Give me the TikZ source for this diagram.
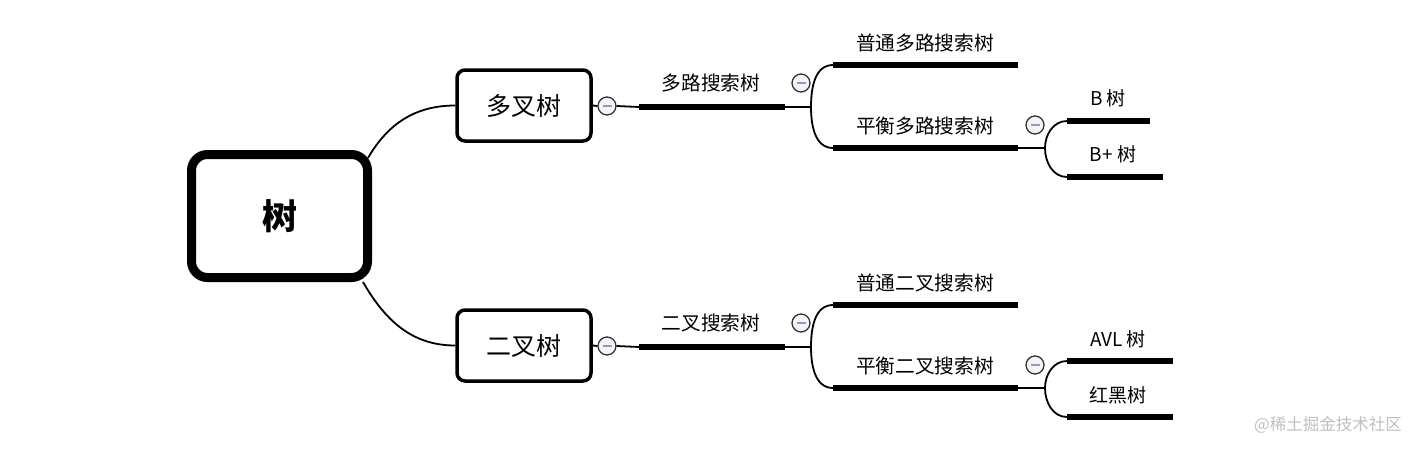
\documentclass[tikz,border=0pt]{standalone}
\usepackage{fontspec}
\setmainfont{Noto Sans CJK SC}
\usetikzlibrary{positioning}
\definecolor{minuscol}{HTML}{8C9AC8}
\definecolor{foldfill}{HTML}{F4F4F8}

\begin{document}
\begin{tikzpicture}[x=1pt,y=-1pt,
  root/.style={draw,line width=9pt,rounded corners=16pt,minimum width=176pt,minimum height=123pt,font=\fontsize{35}{40}\selectfont\bfseries},
  sub/.style={draw,line width=3.5pt,rounded corners=8pt,minimum width=134pt,minimum height=71pt,font=\fontsize{25}{29}\selectfont},
  topic/.style={font=\fontsize{19.7}{23}\selectfont,inner sep=0pt},
  leaf/.style={font=\fontsize{19}{22}\selectfont,inner sep=0pt},
  bar/.style={line width=5.5pt},
  link/.style={line width=1.8pt},
  fold/.style={circle,draw=black!80,fill=foldfill,line width=1.3pt,minimum size=18pt,inner sep=0pt,
    path picture={\draw[minuscol,line width=2pt] ([xshift=-4.5pt]path picture bounding box.center) -- ([xshift=4.5pt]path picture bounding box.center);}}]
\useasboundingbox (0,0) rectangle (1426,450);

\node[root] (root) at (279.5,216) {树};

% upper half
\node[sub] (multi) at (524,105.5) {多叉树};
\node[fold] (f1) at (607,106) {};
\coordinate (m1) at (639,107);
\coordinate (m2) at (785,107);
\node[topic] (t1) at (711,83) {多路搜索树};
\node[fold] (f2) at (801,83) {};
\coordinate (j1) at (811,107);
\coordinate (n1) at (833,65);
\coordinate (n2) at (1018,65);
\node[topic] (t2) at (925,43) {普通多路搜索树};
\coordinate (n3) at (833,148);
\coordinate (n4) at (1018,148);
\node[topic] (t3) at (925,126) {平衡多路搜索树};
\node[fold] (f3) at (1035,125) {};
\coordinate (j2) at (1045,148);
\coordinate (k1) at (1067,121);
\coordinate (k2) at (1150,121);
\node[leaf] (l1) at (1108,98) {B 树};
\coordinate (k3) at (1067,177);
\coordinate (k4) at (1163,177);
\node[leaf] (l2) at (1113,154) {B+ 树};

% lower half
\node[sub] (bin) at (524,345.5) {二叉树};
\node[fold] (g1) at (607,346) {};
\coordinate (b1) at (639,347);
\coordinate (b2) at (785,347);
\node[topic] (s1) at (711,323) {二叉搜索树};
\node[fold] (g2) at (801,323) {};
\coordinate (i1) at (811,347);
\coordinate (o1) at (833,305);
\coordinate (o2) at (1018,305);
\node[topic] (s2) at (925,283) {普通二叉搜索树};
\coordinate (o3) at (833,388);
\coordinate (o4) at (1018,388);
\node[topic] (s3) at (925,366) {平衡二叉搜索树};
\node[fold] (g3) at (1035,365) {};
\coordinate (i2) at (1045,388);
\coordinate (q1) at (1067,361);
\coordinate (q2) at (1173,361);
\node[leaf] (r1) at (1118,339) {AVL 树};
\coordinate (q3) at (1067,417);
\coordinate (q4) at (1173,417);
\node[leaf] (r2) at (1118,395) {红黑树};

\node[text=black!25,font=\fontsize{16.5}{20}\selectfont,inner sep=0pt] (wm) at (1328,425) {@稀土掘金技术社区};

% connectors
\draw[link] ([shift={(-4pt,-8pt)}]root.north east) to[out=60,in=180] (multi.west);
\draw[link] ([xshift=-9pt]root.south east) to[out=-60,in=180] (bin.west);

\draw[link] (multi.east) -- (f1.west) (f1.east) -- (m1);
\draw[bar] (m1) -- (m2);
\draw[link] (m2) -- (j1) to[out=90,in=180] (n1) (j1) to[out=-90,in=180] (n3);
\draw[bar] (n1) -- (n2) (n3) -- (n4);
\draw[link] (n4) -- (j2) to[out=90,in=180] (k1) (j2) to[out=-90,in=180] (k3);
\draw[bar] (k1) -- (k2) (k3) -- (k4);

\draw[link] (bin.east) -- (g1.west) (g1.east) -- (b1);
\draw[bar] (b1) -- (b2);
\draw[link] (b2) -- (i1) to[out=90,in=180] (o1) (i1) to[out=-90,in=180] (o3);
\draw[bar] (o1) -- (o2) (o3) -- (o4);
\draw[link] (o4) -- (i2) to[out=90,in=180] (q1) (i2) to[out=-90,in=180] (q3);
\draw[bar] (q1) -- (q2) (q3) -- (q4);
\end{tikzpicture}
\end{document}
